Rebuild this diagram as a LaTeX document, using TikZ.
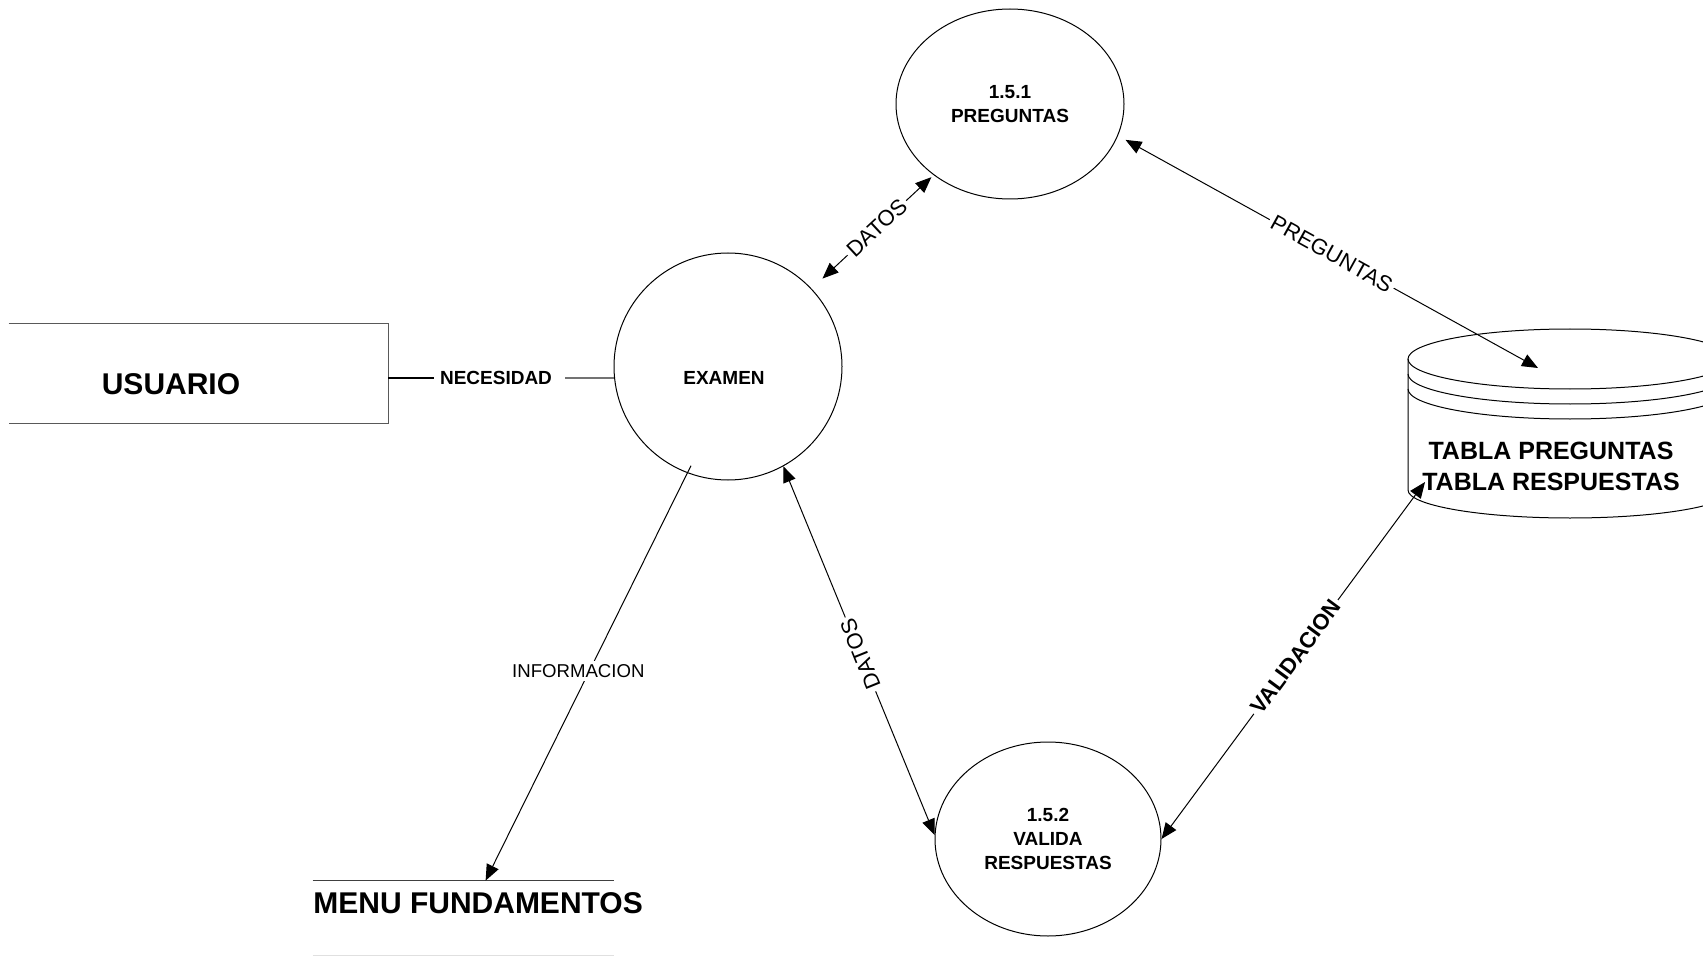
\documentclass[tikz,border=0pt]{standalone}
\usepackage{fontspec}
\setmainfont{Liberation Sans}
\usetikzlibrary{shapes.geometric,arrows.meta,calc}

\begin{document}
\begin{tikzpicture}[x=0.5pt,y=-0.5pt,
  proc/.style={draw=black, line width=0.5pt, ellipse, inner sep=0pt},
  boldtxt/.style={font={\fontsize{9.5pt}{12.2pt}\selectfont\bfseries}, align=center, inner sep=0pt},
  bigtxt/.style={font={\fontsize{15pt}{18pt}\selectfont\bfseries}, inner sep=0pt},
  storetxt/.style={font={\fontsize{12.5pt}{15.5pt}\selectfont\bfseries}, align=center, inner sep=0pt},
  flow/.style={draw=black, line width=0.5pt},
  dflow/.style={flow, {Triangle[length=8pt,width=6.5pt]}-{Triangle[length=8pt,width=6.5pt]}},
  sflow/.style={flow, -{Triangle[length=8pt,width=6.5pt]}},
  flowlbl/.style={font={\fontsize{11pt}{13pt}\selectfont}, fill=white, inner sep=1.5pt},
  flowlblb/.style={font={\fontsize{11pt}{13pt}\selectfont\bfseries}, fill=white, inner sep=1.5pt},
  infolbl/.style={font={\fontsize{9.3pt}{11pt}\selectfont}, fill=white, inner sep=1.5pt},
  entline/.style={draw=black!65, line width=0.6pt},
  storeline/.style={draw=black, line width=0.5pt},
]
\useasboundingbox (0,0) rectangle (1703,957);
\clip (0,0) rectangle (1703,957);

% processes
\node[proc, minimum width=114pt, minimum height=113.5pt] (examen) at (728,366.5) {};
\node[boldtxt] (examenTxt) at (724,378) {EXAMEN};
\node[proc, boldtxt, minimum width=114pt, minimum height=95pt] (p151) at (1010,104) {1.5.1\\PREGUNTAS};
\node[proc, boldtxt, minimum width=113pt, minimum height=97pt] (p152) at (1048,839) {1.5.2\\VALIDA\\RESPUESTAS};

% external entity: user
\node[minimum width=189.5pt, minimum height=49.5pt, inner sep=0pt] (usuario) at (198.5,373.5) {};
\draw[entline] (usuario.north west) -- (usuario.north east) -- (usuario.south east) -- (usuario.south west);
\node[bigtxt] (usuarioTxt) at (171,384) {USUARIO};

% menu entity
\node[minimum width=150.5pt, minimum height=37pt, inner sep=0pt] (menu) at (463.5,918) {};
\draw[draw=black!75, line width=0.6pt] (menu.north west) -- (menu.north east);
\draw[draw=black!12, line width=0.6pt] (menu.south west) -- (menu.south east);
\node[bigtxt, anchor=west] (menuTxt) at (313,903) {MENU FUNDAMENTOS};

% data store
\draw[storeline] (1570,359) ellipse [x radius=81pt, y radius=15pt];
\draw[storeline] (1408,374) arc[start angle=180, end angle=360, x radius=81pt, y radius=15pt];
\draw[storeline] (1408,389) arc[start angle=180, end angle=360, x radius=81pt, y radius=15pt];
\draw[storeline] (1408,359) -- (1408,490) arc[start angle=180, end angle=360, x radius=81pt, y radius=14pt] -- (1732,359);
\node[storetxt] (store) at (1551,466) {TABLA PREGUNTAS\\TABLA RESPUESTAS};
\coordinate (storeTop) at (1538,368);
\coordinate (storeSide) at (1425,482);

% need flow
\node[boldtxt] (necTxt) at (496,378) {NECESIDAD};
\draw[line width=1pt] (usuario.east |- necTxt) -- ([xshift=-3pt]necTxt.west);
\draw[line width=0.6pt, draw=black!55] ([xshift=6.5pt]necTxt.east) -- (examen.west |- necTxt);

% data flows
\draw[dflow, shorten <=7.4pt, shorten >=1.5pt] (examen) -- node[flowlbl, sloped, pos=0.535] {DATOS} (p151);
\draw[dflow] ([shift={(8,3)}]p151.-17.8) -- node[flowlbl, sloped, pos=0.5] {PREGUNTAS} (storeTop);
\draw[dflow] (examen.-61.5) -- node[flowlbl, rotate=112, pos=0.51] {DATOS} (p152.178.5);
\draw[dflow] (p152.0) -- node[flowlblb, sloped, pos=0.51] {VALIDACION} (storeSide);
\draw[sflow] ([shift={(2,-8)}]examen.-110) -- node[infolbl, pos=0.495, xshift=-5.5pt] {INFORMACION} ($(menu.north west)+(173,0)$);
\end{tikzpicture}
\end{document}
